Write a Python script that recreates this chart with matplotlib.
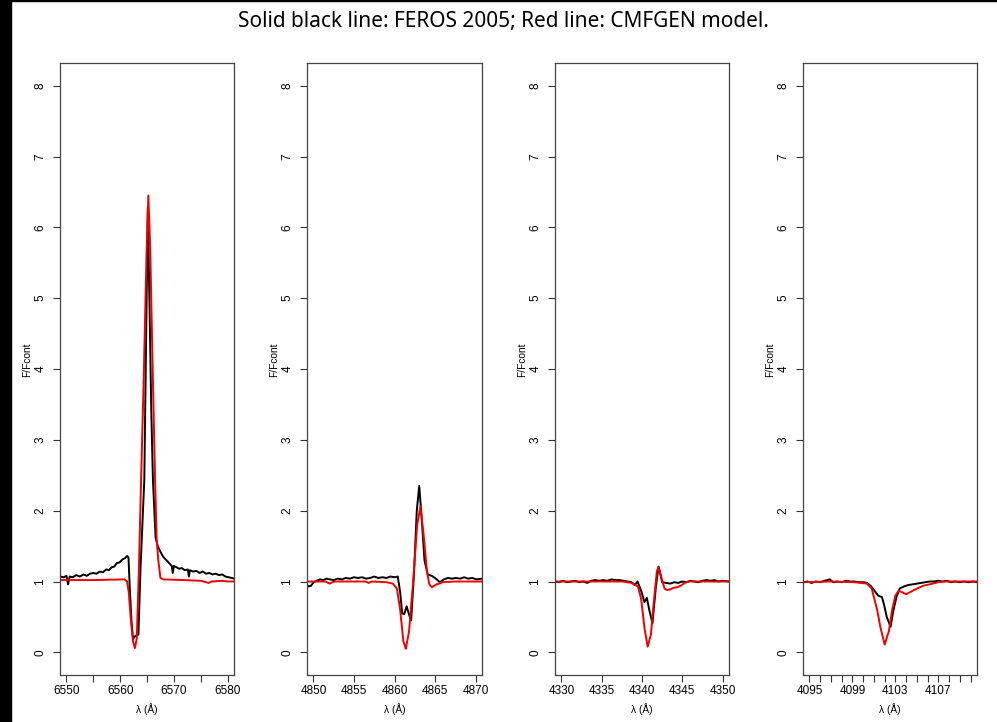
#!/usr/bin/env python
# Balmer line profiles: FEROS 2005 spectrum (black) vs CMFGEN model (red).
# Four panels: H-alpha, H-beta, H-gamma, H-delta.

import numpy
import matplotlib
matplotlib.use('Agg')
import matplotlib.pyplot as plt
from matplotlib.patches import Rectangle


# H-alpha
ha_wave_obs = [6548.8, 6549.5, 6550.0, 6550.3, 6550.6, 6551.2, 6551.8, 6552.5, 6553.2, 6553.8,
               6554.4, 6555.0, 6555.6, 6556.2, 6556.8, 6557.4, 6557.9, 6558.4, 6558.9, 6559.4,
               6559.9, 6560.4, 6560.9, 6561.3, 6561.55, 6561.8, 6562.1, 6562.4, 6562.7, 6563.0,
               6563.4, 6563.8, 6564.5, 6564.9, 6565.15, 6565.4, 6565.8, 6566.1, 6566.6, 6567.0,
               6567.5, 6568.0, 6568.5, 6569.0, 6569.6, 6569.8, 6570.0, 6570.5, 6571.0, 6571.5,
               6572.0, 6572.6, 6572.8, 6573.0, 6573.6, 6574.2, 6574.8, 6575.4, 6576.0, 6576.6,
               6577.2, 6577.8, 6578.4, 6579.0, 6579.6, 6580.2, 6580.8, 6581.2]
ha_flux_obs = [1.07, 1.06, 1.08, 0.96, 1.07, 1.06, 1.09, 1.07, 1.10, 1.08,
               1.11, 1.12, 1.11, 1.14, 1.13, 1.17, 1.16, 1.20, 1.21, 1.26,
               1.27, 1.31, 1.33, 1.36, 1.34, 0.90, 0.45, 0.19, 0.22, 0.24,
               0.25, 1.20, 2.44, 4.80, 6.28, 5.20, 3.40, 2.44, 1.62, 1.50,
               1.42, 1.35, 1.31, 1.27, 1.22, 1.12, 1.22, 1.20, 1.18, 1.19,
               1.16, 1.17, 1.07, 1.16, 1.14, 1.15, 1.12, 1.14, 1.11, 1.12,
               1.10, 1.11, 1.09, 1.10, 1.07, 1.06, 1.05, 1.04]
ha_wave_mod = [6548.8, 6555.0, 6560.8, 6561.3, 6561.6, 6562.0, 6562.4, 6562.75, 6563.1, 6563.5,
               6563.9, 6564.4, 6564.9, 6565.25, 6565.6, 6566.0, 6566.5, 6566.8, 6567.1, 6567.5,
               6568.0, 6572.0, 6575.0, 6576.0, 6576.5, 6577.0, 6579.0, 6580.0, 6581.2]
ha_flux_mod = [1.02, 1.02, 1.03, 1.00, 0.85, 0.45, 0.15, 0.06, 0.20, 1.20,
               2.44, 3.90, 5.60, 6.45, 5.70, 4.20, 2.44, 1.60, 1.30, 1.05,
               1.03, 1.02, 1.01, 0.99, 0.98, 1.00, 1.01, 1.00, 1.00]

# H-beta
hb_wave_obs = [4849.2, 4849.4, 4849.7, 4850.0, 4850.4, 4850.8, 4851.2, 4851.6, 4852.0, 4852.5,
               4853.0, 4853.5, 4854.0, 4854.5, 4855.0, 4855.5, 4856.0, 4856.5, 4857.0, 4857.5,
               4858.0, 4858.5, 4859.0, 4859.5, 4860.0, 4860.4, 4860.7, 4860.95, 4861.2, 4861.5,
               4861.75, 4862.05, 4862.4, 4862.75, 4863.05, 4863.35, 4863.7, 4864.1, 4864.6, 4865.1,
               4865.6, 4866.1, 4866.6, 4867.1, 4867.6, 4868.1, 4868.6, 4869.1, 4869.6, 4870.1,
               4870.8]
hb_flux_obs = [0.95, 0.93, 0.94, 0.99, 1.01, 1.03, 1.02, 1.04, 1.03, 1.02,
               1.04, 1.03, 1.05, 1.04, 1.06, 1.05, 1.06, 1.04, 1.05, 1.07,
               1.05, 1.06, 1.05, 1.07, 1.06, 1.07, 0.85, 0.55, 0.54, 0.65,
               0.55, 0.45, 1.10, 2.00, 2.35, 1.90, 1.30, 1.10, 1.08, 1.04,
               0.99, 1.03, 1.05, 1.04, 1.05, 1.04, 1.06, 1.04, 1.05, 1.03,
               1.04]
hb_wave_mod = [4849.2, 4851.5, 4852.0, 4852.5, 4856.4, 4856.8, 4857.2, 4859.0, 4859.8, 4860.3,
               4860.7, 4861.1, 4861.4, 4861.8, 4862.3, 4862.8, 4863.2, 4863.6, 4864.0, 4864.3,
               4864.6, 4865.2, 4866.0, 4867.5, 4870.8]
hb_flux_mod = [1.00, 1.00, 0.97, 1.00, 1.00, 0.98, 1.00, 0.99, 0.97, 0.90,
               0.60, 0.15, 0.05, 0.30, 1.00, 1.80, 2.06, 1.65, 1.15, 0.96,
               0.92, 0.96, 0.99, 1.00, 1.00]

# H-gamma
hg_wave_obs = [4329.2, 4329.7, 4330.2, 4330.7, 4331.2, 4331.7, 4332.2, 4332.7, 4333.2, 4333.7,
               4334.2, 4334.7, 4335.2, 4335.7, 4336.2, 4336.7, 4337.2, 4337.7, 4338.2, 4338.7,
               4339.1, 4339.45, 4339.95, 4340.3, 4340.6, 4340.9, 4341.3, 4341.7, 4342.05, 4342.3,
               4342.5, 4343.0, 4343.5, 4344.0, 4344.5, 4345.0, 4345.5, 4346.0, 4346.5, 4347.0,
               4347.5, 4348.0, 4348.5, 4349.0, 4349.5, 4350.0, 4350.8]
hg_flux_obs = [1.00, 0.99, 1.01, 0.99, 1.00, 1.01, 0.99, 1.00, 0.98, 1.01,
               1.02, 1.01, 1.02, 1.01, 1.03, 1.02, 1.02, 1.01, 1.00, 0.99,
               0.95, 1.00, 0.85, 0.71, 0.77, 0.60, 0.41, 0.90, 1.21, 1.10,
               0.99, 0.98, 0.97, 0.99, 0.98, 1.00, 0.99, 1.01, 1.00, 0.99,
               1.01, 1.02, 1.01, 1.02, 1.00, 1.01, 1.00]
hg_wave_mod = [4329.2, 4337.5, 4338.7, 4339.5, 4339.9, 4340.3, 4340.7, 4341.1, 4341.5, 4341.85,
               4342.05, 4342.4, 4342.8, 4343.1, 4343.5, 4343.9, 4344.4, 4344.8, 4345.3, 4345.8,
               4350.8]
hg_flux_mod = [1.00, 1.00, 0.98, 0.93, 0.75, 0.35, 0.08, 0.25, 0.75, 1.15,
               1.20, 1.05, 0.90, 0.88, 0.89, 0.91, 0.92, 0.94, 0.98, 1.00,
               1.00]

# H-delta
hd_wave_obs = [4094.4, 4094.8, 4095.2, 4095.6, 4096.0, 4096.4, 4096.9, 4097.2, 4097.6, 4098.0,
               4098.4, 4098.8, 4099.2, 4099.6, 4100.0, 4100.35, 4100.7, 4101.0, 4101.4, 4101.75,
               4101.95, 4102.2, 4102.55, 4102.8, 4103.1, 4103.4, 4103.8, 4104.2, 4104.6, 4105.0,
               4105.4, 4105.8, 4106.2, 4106.6, 4107.0, 4107.4, 4107.8, 4108.2, 4108.6, 4109.0,
               4109.4, 4109.8, 4110.2, 4110.6]
hd_flux_obs = [0.99, 1.00, 0.98, 1.00, 0.99, 1.01, 1.03, 0.99, 1.00, 0.99,
               1.01, 1.00, 1.00, 0.99, 0.99, 0.98, 0.94, 0.88, 0.80, 0.78,
               0.67, 0.50, 0.36, 0.58, 0.78, 0.90, 0.93, 0.95, 0.96, 0.97,
               0.98, 0.99, 1.00, 1.00, 1.01, 1.00, 1.01, 0.99, 1.00, 0.99,
               1.00, 0.99, 1.00, 0.99]
hd_wave_mod = [4094.4, 4097.0, 4099.2, 4100.35, 4100.8, 4101.3, 4101.6, 4102.0, 4102.4, 4102.7,
               4103.0, 4103.3, 4103.6, 4104.0, 4104.5, 4105.0, 4105.6, 4106.2, 4107.0, 4107.7,
               4110.6]
hd_flux_mod = [0.99, 1.00, 0.99, 0.97, 0.90, 0.60, 0.36, 0.11, 0.30, 0.60,
               0.80, 0.87, 0.85, 0.82, 0.86, 0.90, 0.94, 0.96, 0.99, 1.00,
               1.00]

# x ticks for each panel, and which of them get a label
ha_ticks = [6550, 6555, 6560, 6565, 6570, 6575, 6580]
ha_labels = ['6550', '', '6560', '', '6570', '', '6580']
hb_ticks = [4850, 4855, 4860, 4865, 4870]
hb_labels = ['4850', '4855', '4860', '4865', '4870']
hg_ticks = [4330, 4335, 4340, 4345, 4350]
hg_labels = ['4330', '4335', '4340', '4345', '4350']
hd_ticks = list(range(4095, 4111))
hd_labels = ['4095', '', '', '', '4099', '', '', '', '4103', '', '', '', '4107', '', '', '']

y_ticks = [0, 1, 2, 3, 4, 5, 6, 7, 8]

title = 'Solid black line: FEROS 2005; Red line: CMFGEN model.'


W, H = 997., 722.

def panel(fig, left_px, right_px, wobs, fobs, wmod, fmod, xlim, ticks, labels):
    ax = fig.add_axes([left_px / W, (H - 675) / H, (right_px - left_px) / W, (675 - 63) / H])
    ax.plot(wobs, fobs, color='black', lw=1.4)
    ax.plot(wmod, fmod, color='#f00000', lw=1.4)
    ax.set_xlim(xlim)
    ax.set_ylim(-0.32, 8.32)
    ax.set_xticks(ticks)
    ax.set_xticklabels(labels)
    ax.set_yticks(y_ticks)
    ax.set_yticklabels([str(v) for v in y_ticks], rotation=90, va='center')
    ax.tick_params(axis='both', direction='out', length=5, width=0.8, labelsize=8.5,
                   color='#333333')
    ax.tick_params(axis='x', pad=2.2)
    ax.tick_params(axis='y', pad=4.8)
    for s in ax.spines.values():
        s.set_color('#444444')
        s.set_linewidth(0.9)
    ax.set_xlabel(u'\u03bb (\u00c5)', fontsize=7.3)
    ax.xaxis.set_label_coords(0.5, -0.046)
    ax.set_ylabel('F/Fcont', fontsize=7.3)
    ax.yaxis.set_label_coords(-0.158, 0.515)
    return ax


plt.rcParams['font.family'] = ['Liberation Sans', 'DejaVu Sans']

fig = plt.figure(figsize=(W / 100, H / 100), dpi=100)

panel(fig, 60, 234, ha_wave_obs, ha_flux_obs, ha_wave_mod, ha_flux_mod,
      (6548.8, 6581.2), ha_ticks, ha_labels)
panel(fig, 307, 482, hb_wave_obs, hb_flux_obs, hb_wave_mod, hb_flux_mod,
      (4849.2, 4870.8), hb_ticks, hb_labels)
panel(fig, 555, 729, hg_wave_obs, hg_flux_obs, hg_wave_mod, hg_flux_mod,
      (4329.2, 4350.8), hg_ticks, hg_labels)
panel(fig, 803, 977, hd_wave_obs, hd_flux_obs, hd_wave_mod, hd_flux_mod,
      (4094.4, 4110.6), hd_ticks, hd_labels)

fig.text(503 / W, 1 - 22 / H, title, ha='center', va='center', fontsize=15,
         family=['Noto Sans', 'DejaVu Sans'])

# black strip on the left edge of the original image
fig.patches.append(Rectangle((0, 0), 11 / W, 1, transform=fig.transFigure,
                             color='black', zorder=10))
fig.patches.append(Rectangle((0, 1 - 1 / H), 1, 1 / H, transform=fig.transFigure,
                             color='black', zorder=10))

fig.savefig('out.png', dpi=100)
